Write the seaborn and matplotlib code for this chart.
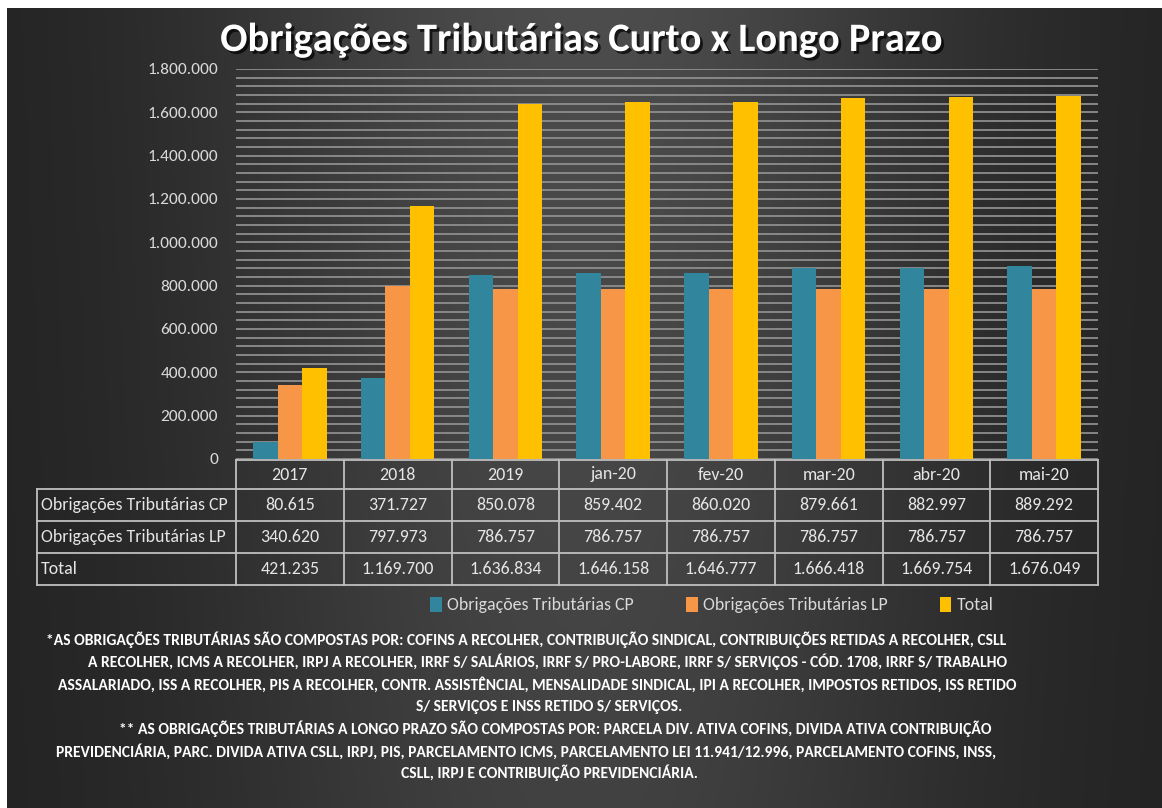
import numpy as np
import pandas as pd
import matplotlib
matplotlib.use("Agg")
import matplotlib.pyplot as plt
import matplotlib.patheffects as pe
from matplotlib.patches import Patch
from matplotlib.ticker import MultipleLocator, FuncFormatter
import seaborn as sns

categorias = ["2017", "2018", "2019", "jan-20", "fev-20", "mar-20", "abr-20", "mai-20"]
cp = [80615, 371727, 850078, 859402, 860020, 879661, 882997, 889292]
lp = [340620, 797973, 786757, 786757, 786757, 786757, 786757, 786757]
total = [421235, 1169700, 1636834, 1646158, 1646777, 1666418, 1669754, 1676049]
series = ["Obrigações Tributárias CP", "Obrigações Tributárias LP", "Total"]
cores = {"Obrigações Tributárias CP": "#31859C",
         "Obrigações Tributárias LP": "#F79646",
         "Total": "#FFC000"}

titulo = "Obrigações Tributárias Curto x Longo Prazo"
nota = [
    "*AS OBRIGAÇÕES TRIBUTÁRIAS SÃO COMPOSTAS POR: COFINS A RECOLHER, CONTRIBUIÇÃO SINDICAL, CONTRIBUIÇÕES RETIDAS A RECOLHER, CSLL",
    "A RECOLHER, ICMS A RECOLHER, IRPJ A RECOLHER, IRRF S/ SALÁRIOS, IRRF S/ PRO-LABORE, IRRF S/ SERVIÇOS - CÓD. 1708, IRRF S/ TRABALHO",
    "ASSALARIADO, ISS A RECOLHER, PIS A RECOLHER, CONTR. ASSISTÊNCIAL, MENSALIDADE SINDICAL, IPI A RECOLHER, IMPOSTOS RETIDOS, ISS RETIDO",
    "S/ SERVIÇOS E INSS RETIDO S/ SERVIÇOS.",
    "** AS OBRIGAÇÕES TRIBUTÁRIAS A LONGO PRAZO SÃO COMPOSTAS POR: PARCELA DIV. ATIVA COFINS, DIVIDA ATIVA CONTRIBUIÇÃO",
    "PREVIDENCIÁRIA, PARC. DIVIDA ATIVA CSLL, IRPJ, PIS, PARCELAMENTO ICMS, PARCELAMENTO LEI 11.941/12.996, PARCELAMENTO COFINS, INSS,",
    "CSLL, IRPJ E CONTRIBUIÇÃO PREVIDENCIÁRIA.",
]
# centro horizontal (px) de cada linha da nota, como no original
nota_cx = [526, 548, 537, 549, 555, 526, 549]

df = pd.DataFrame({
    "cat": categorias * 3,
    "serie": [s for s in series for _ in categorias],
    "valor": cp + lp + total,
})

# Carlito tem as métricas do Calibri; Lato como reserva
FONTE = ["Carlito", "Lato", "DejaVu Sans"]
FONTE_TIT = ["Carlito", "Open Sans", "DejaVu Sans"]


def fmt_br(v, pos=None):
    return f"{int(v):,}".replace(",", ".")


W, H = 1162, 808
fig = plt.figure(figsize=(W / 100, H / 100), dpi=100)
fig.patch.set_facecolor("white")
renderer = fig.canvas.get_renderer()


def tamanho_para_largura(texto, largura, peso="normal", familia=FONTE):
    # tamanho de fonte que faz o texto ocupar a largura (px) desejada
    t = fig.text(0, 0, texto, fontsize=10, family=familia, fontweight=peso)
    w = t.get_window_extent(renderer).width
    t.remove()
    return 10 * largura / w


# fundo escuro com gradiente
bg = fig.add_axes([7 / W, 0, 1 - 7 / W, 1 - 8 / H])
xx, yy = np.meshgrid(np.linspace(0, 1, 400), np.linspace(0, 1, 300))
lum = 0.13 + 0.17 * np.exp(-((xx - 0.5) / 0.33) ** 2) * (0.75 + 0.25 * yy)
bg.imshow(np.dstack([lum, lum, lum]), aspect="auto", extent=[0, 1, 0, 1], origin="lower")
bg.axis("off")

# sobreposição em pixels para tabela e textos
ov = fig.add_axes([0, 0, 1, 1])
ov.set_xlim(0, W)
ov.set_ylim(H, 0)
ov.axis("off")

x0, x1 = 236, 1098
y_top, y_zero = 69, 459
ax = fig.add_axes([x0 / W, 1 - y_zero / H, (x1 - x0) / W, (y_zero - y_top) / H])
ax.set_facecolor("none")
sns.barplot(data=df, x="cat", y="valor", hue="serie", palette=cores, width=0.68,
            saturation=1, legend=False, ax=ax, zorder=3)
ax.set_ylim(0, 1800000)
ax.set_xlim(-0.5, len(categorias) - 0.5)
ax.yaxis.set_major_locator(MultipleLocator(200000))
ax.yaxis.set_minor_locator(MultipleLocator(40000))
ax.yaxis.set_major_formatter(FuncFormatter(fmt_br))
ax.grid(True, axis="y", which="both", color="#8e8e8e", lw=1.3, zorder=0)
ax.set_axisbelow(True)
tam_tick = tamanho_para_largura("1.800.000", 71)
ax.tick_params(axis="y", which="both", length=0, labelcolor="#d9d9d9", labelsize=tam_tick, pad=13)
for lab in ax.get_yticklabels():
    lab.set_fontfamily(FONTE)
ax.tick_params(axis="x", length=0, labelbottom=False)
ax.set_xlabel("")
ax.set_ylabel("")
for s in ax.spines.values():
    s.set_visible(False)

# tabela de dados
lc = "#bfbfbf"
colw = (x1 - x0) / len(categorias)
rows_y = [460, 489, 521, 553, 585]
left = 37
tam_tab = tamanho_para_largura("Obrigações Tributárias CP", 188)
tfont = dict(family=FONTE, fontsize=tam_tab, color="#e6e6e6")
ov.plot([x0, x1], [rows_y[0], rows_y[0]], color=lc, lw=1.3)
for yv in rows_y[1:]:
    ov.plot([left, x1], [yv, yv], color=lc, lw=1.3)
ov.plot([left, left], [rows_y[1], rows_y[-1]], color=lc, lw=1.3)
for i in range(len(categorias) + 1):
    ov.plot([x0 + i * colw] * 2, [rows_y[0], rows_y[-1]], color=lc, lw=1.3)
for i, c in enumerate(categorias):
    cx = x0 + (i + 0.5) * colw
    ov.text(cx, (rows_y[0] + rows_y[1]) / 2, c, ha="center", va="center", **tfont)
for r, (nome, vals) in enumerate(zip(series, [cp, lp, total])):
    cy = (rows_y[r + 1] + rows_y[r + 2]) / 2
    ov.text(left + 4, cy, nome, ha="left", va="center", **tfont)
    for i, v in enumerate(vals):
        ov.text(x0 + (i + 0.5) * colw, cy, fmt_br(v), ha="center", va="center", **tfont)

# legenda
handles = [Patch(facecolor=cores[s], label=s) for s in series]
leg = fig.legend(handles=handles, loc="center", bbox_to_anchor=(712 / W, 1 - 605 / H), ncol=3,
                 frameon=False, handlelength=0.65, handleheight=0.9, handletextpad=0.3,
                 columnspacing=2.9, prop={"family": FONTE, "size": tam_tab})
for t in leg.get_texts():
    t.set_color("#d9d9d9")

# título
tam_tit = tamanho_para_largura(titulo, 722, peso="bold", familia=FONTE_TIT)
fig.text(581 / W, 1 - 40 / H, titulo, ha="center", va="center", color="white",
         fontsize=tam_tit, fontweight="bold", family=FONTE_TIT,
         path_effects=[pe.withSimplePatchShadow(offset=(2, -2), shadow_rgbFace="black", alpha=0.7)])

# notas
tam_nota = tamanho_para_largura(nota[0], 957, peso="bold")
nota_y = [640, 662, 685, 707, 729, 752, 773]
for linha, cx, cy in zip(nota, nota_cx, nota_y):
    ov.text(cx, cy, linha, ha="center", va="center", color="white",
            family=FONTE, fontweight="bold", fontsize=tam_nota)

fig.savefig("out.png", dpi=100, facecolor=fig.get_facecolor())
